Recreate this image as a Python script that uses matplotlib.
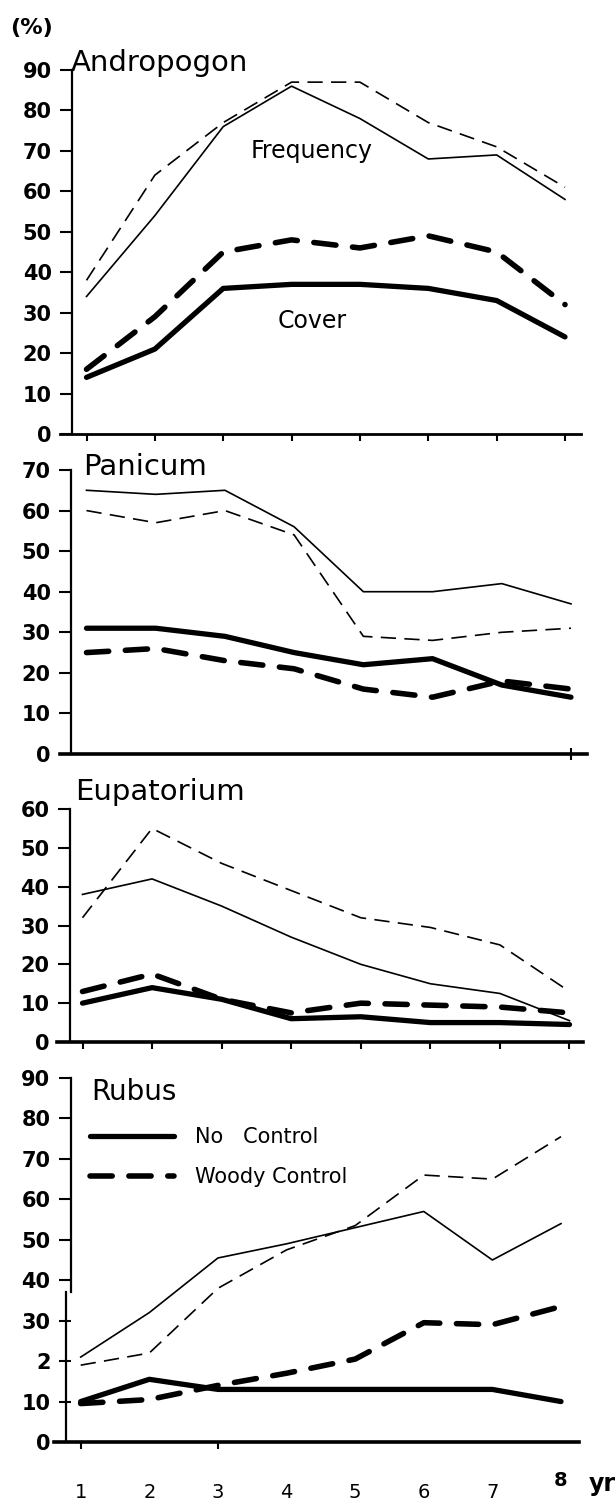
import matplotlib.pyplot as plt
from matplotlib.lines import Line2D
from matplotlib.transforms import blended_transform_factory

plt.rcParams['font.family'] = ['DejaVu Sans']
plt.rcParams['lines.scale_dashes'] = False

W, H = 616, 1508

years = [1, 2, 3, 4, 5, 6, 7, 8]
year_labels = ['1', '2', '3', '4', '5', '6', '7', '8']

# Andropogon
andro_freq_nc = [34, 54, 76, 86, 78, 68, 69, 58]
andro_freq_wc = [38, 64, 77, 87, 87, 77, 71, 61]
andro_cover_nc = [14, 21, 36, 37, 37, 36, 33, 24]
andro_cover_wc = [16, 29, 45, 48, 46, 49, 45, 32]
andro_ticks = [0, 10, 20, 30, 40, 50, 60, 70, 80, 90]
andro_tick_labels = ['0', '10', '20', '30', '40', '50', '60', '70', '80', '90']

# Panicum
pan_freq_nc = [65, 64, 65, 56, 40, 40, 42, 37]
pan_freq_wc = [60, 57, 60, 54, 29, 28, 30, 31]
pan_cover_nc = [31, 31, 29, 25, 22, 23.5, 17, 14]
pan_cover_wc = [25, 26, 23, 21, 16, 14, 18, 16]
pan_ticks = [0, 10, 20, 30, 40, 50, 60, 70]
pan_tick_labels = ['0', '10', '20', '30', '40', '50', '60', '70']

# Eupatorium
eup_freq_nc = [38, 42, 35, 27, 20, 15, 12.5, 5.5]
eup_freq_wc = [32, 55, 46, 39, 32, 29.5, 25, 13]
eup_cover_nc = [10, 14, 11, 6, 6.5, 5, 5, 4.5]
eup_cover_wc = [13, 17.5, 11, 7.5, 10, 9.5, 9, 7.5]
eup_ticks = [0, 10, 20, 30, 40, 50, 60]
eup_tick_labels = ['0', '10', '20', '30', '40', '50', '60']

# Rubus
rub_freq_nc = [21, 32, 45.5, 49, 53, 57, 45, 54]
rub_freq_wc = [19, 22, 38, 47.5, 53.5, 66, 65, 75.5]
rub_cover_nc = [10, 15.5, 13, 13, 13, 13, 13, 10]
rub_cover_wc = [9.5, 10.5, 14, 17, 20.5, 29.5, 29, 33.5]
rub_ticks = [0, 10, 20, 30, 40, 50, 60, 70, 80, 90]
rub_tick_labels = ['0', '10', '2', '30', '40', '50', '60', '70', '80', '90']

# styles
thin_solid = dict(color='black', lw=1.2, ls='-')
thin_dash = dict(color='black', lw=1.2, ls=(0, (11, 6)))
thick_solid = dict(color='black', lw=3.8, ls='-', solid_capstyle='round')
thick_dash = dict(color='black', lw=4.0, ls=(0, (16, 12)), dash_capstyle='round')

fig = plt.figure(figsize=(W / 100, H / 100), dpi=100)
fig.patch.set_facecolor('white')


def panel(l, t, r, b, x1, x8, spine_px, ymax):
    ax = fig.add_axes([l / W, 1 - b / H, (r - l) / W, (b - t) / H])
    s = (x8 - x1) / 7
    ax.set_xlim(1 - (x1 - l) / s, 8 + (r - x8) / s)
    ax.set_ylim(0, ymax)
    ax.spines['top'].set_visible(False)
    ax.spines['right'].set_visible(False)
    ax.spines['left'].set_position(('data', 1 - (x1 - spine_px) / s))
    ax.spines['left'].set_linewidth(1.6)
    ax.spines['bottom'].set_linewidth(2.0)
    ax.patch.set_alpha(0)
    ax.tick_params(axis='y', direction='out', length=8.5, width=1.5, pad=6,
                   labelsize=15)
    ax.tick_params(axis='x', direction='out', length=5, width=1.5,
                   labelbottom=False)
    return ax


def draw(ax, fnc, fwc, cnc, cwc):
    ax.plot(years, fnc, **thin_solid)
    ax.plot(years, fwc, **thin_dash)
    ax.plot(years, cnc, **thick_solid)
    ax.plot(years, cwc, **thick_dash)


def yticks(ax, ticks, labels):
    ax.set_yticks(ticks, labels)
    for lab in ax.get_yticklabels():
        lab.set_fontweight('bold')


# Andropogon
ax1 = panel(60, 70, 581, 434, 86.5, 565, 72, 90)
draw(ax1, andro_freq_nc, andro_freq_wc, andro_cover_nc, andro_cover_wc)
yticks(ax1, andro_ticks, andro_tick_labels)
ax1.set_xticks(years)
ax1.text(0.02, 1.018, 'Andropogon', transform=ax1.transAxes, fontsize=21,
         ha='left', va='center')
ax1.text(4.3, 70, 'Frequency', fontsize=17, ha='center', va='center')
ax1.text(4.3, 28, 'Cover', fontsize=17, ha='center', va='center')
fig.text(31 / W, 1 - 28 / H, '(%)', fontsize=16, fontweight='bold',
         ha='center', va='center')

# Panicum
ax2 = panel(60, 470, 587, 754, 86.5, 571, 71, 70)
draw(ax2, pan_freq_nc, pan_freq_wc, pan_cover_nc, pan_cover_wc)
yticks(ax2, pan_ticks, pan_tick_labels)
ax2.set_xticks([8])
ax2.tick_params(axis='x', direction='inout', length=9)
ax2.spines['bottom'].set_linewidth(2.6)
ax2.text(0.044, 1.01, 'Panicum', transform=ax2.transAxes, fontsize=21,
         ha='left', va='center')

# Eupatorium
ax3 = panel(57.5, 809, 583, 1042, 82.5, 569.5, 69.5, 60)
draw(ax3, eup_freq_nc, eup_freq_wc, eup_cover_nc, eup_cover_wc)
yticks(ax3, eup_ticks, eup_tick_labels)
ax3.set_xticks(years)
ax3.spines['bottom'].set_linewidth(2.6)
ax3.text(0.033, 1.075, 'Eupatorium', transform=ax3.transAxes, fontsize=21,
         ha='left', va='center')

# Rubus
ax4 = panel(53.6, 1078, 579, 1442, 80.7, 561, 70.6, 90)
draw(ax4, rub_freq_nc, rub_freq_wc, rub_cover_nc, rub_cover_wc)
yticks(ax4, rub_ticks, rub_tick_labels)
ax4.set_xticks([])
ax4.set_xticks([1, 3], minor=True)
ax4.tick_params(axis='x', which='minor', direction='out', length=5, width=1.5)
ax4.spines['bottom'].set_linewidth(2.6)
ax4.spines['left'].set_bounds(37, 90)
s4 = (561 - 80.7) / 7
ax4.axvline(1 - (80.7 - 65.5) / s4, 0, 37 / 90, color='black', lw=1.6,
            clip_on=False)
ax4.text(0.071, 0.962, 'Rubus', transform=ax4.transAxes, fontsize=20,
         ha='left', va='center')

trans4 = blended_transform_factory(ax4.transData, ax4.transAxes)
for yr, lab in zip(years, year_labels):
    if lab == '8':
        ax4.text(yr, -0.105, lab, transform=trans4, fontsize=14,
                 fontweight='bold', ha='center', va='center')
    else:
        ax4.text(yr, -0.14, lab, transform=trans4, fontsize=14,
                 ha='center', va='center')
ax4.text(8.6, -0.115, 'yr', transform=trans4, fontsize=17, fontweight='bold',
         ha='center', va='center')

handles = [Line2D([], [], **thick_solid), Line2D([], [], **thick_dash)]
ax4.legend(handles, ['No   Control', 'Woody Control'], loc='upper left',
           bbox_to_anchor=(0.07, 0.865), frameon=False, fontsize=15,
           handlelength=4.0, handletextpad=1.0, labelspacing=0.95,
           borderpad=0, borderaxespad=0)

fig.savefig('out.png', dpi=100, facecolor='white')
